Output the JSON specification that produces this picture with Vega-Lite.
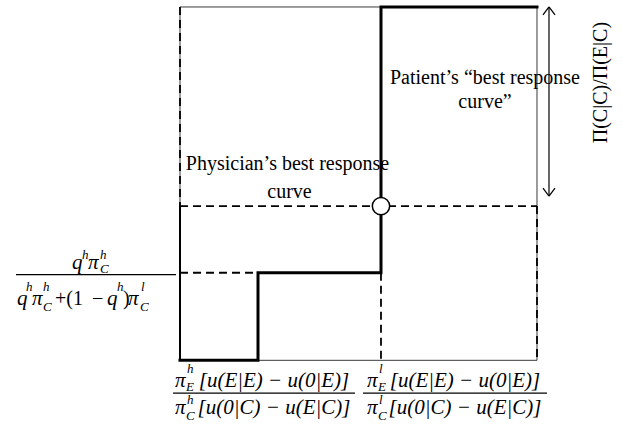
{
  "$schema": "https://vega.github.io/schema/vega-lite/v6.json",
  "width": 622,
  "height": 427,
  "padding": 0,
  "autosize": {"type": "fit", "contains": "padding"},
  "background": "white",
  "config": {"view": {"stroke": null}},
  "datasets": {
    "segs": [
      {"x": 0, "y": 1, "x2": 0.563, "y2": 1, "k": "thin"},
      {"x": 1, "y": 1, "x2": 1, "y2": 0, "k": "thin"},
      {"x": 0.2185, "y": 0, "x2": 1, "y2": 0, "k": "thin"},
      {"x": 0, "y": 1, "x2": 0, "y2": 0.4366, "k": "thin"},
      {"x": 0, "y": 0.4366, "x2": 0, "y2": 0, "k": "mid"},
      {"x": 0, "y": 1, "x2": 0, "y2": 0.4366, "k": "dash"},
      {"x": 1, "y": 0.4366, "x2": 1, "y2": 0, "k": "dash"},
      {"x": 0, "y": 0.4366, "x2": 1, "y2": 0.4366, "k": "dash"},
      {"x": 0, "y": 0.2479, "x2": 0.2185, "y2": 0.2479, "k": "dash"},
      {"x": 0.563, "y": 0.2479, "x2": 0.563, "y2": 0, "k": "dash"},
      {"x": 1.0336, "y": 1, "x2": 1.0336, "y2": 0.4648, "k": "arrow"},
      {"x": 1.0336, "y": 1, "x2": 1.0168, "y2": 0.9775, "k": "arrow"},
      {"x": 1.0336, "y": 1, "x2": 1.0504, "y2": 0.9775, "k": "arrow"},
      {"x": 1.0336, "y": 0.4648, "x2": 1.0168, "y2": 0.4873, "k": "arrow"},
      {"x": 1.0336, "y": 0.4648, "x2": 1.0504, "y2": 0.4873, "k": "arrow"},
      {"x": -0.4594, "y": 0.2423, "x2": -0.0112, "y2": 0.2423, "k": "arrow"},
      {"x": -0.0196, "y": -0.093, "x2": 0.4902, "y2": -0.093, "k": "arrow"},
      {"x": 0.5126, "y": -0.093, "x2": 1.028, "y2": -0.093, "k": "arrow"}
    ],
    "thick": [
      {"x": 0, "y": 0, "o": 1},
      {"x": 0.2185, "y": 0, "o": 2},
      {"x": 0.2185, "y": 0.2479, "o": 3},
      {"x": 0.563, "y": 0.2479, "o": 4},
      {"x": 0.563, "y": 1, "o": 5},
      {"x": 1, "y": 1, "o": 6}
    ],
    "pt": [{"x": 0.563, "y": 0.4366}],
    "txt": [
      {"x": -0.3025, "y": 0.2592, "t": "q", "k": "m"},
      {"x": -0.2745, "y": 0.2873, "t": "h", "k": "sup"},
      {"x": -0.2577, "y": 0.2592, "t": "π", "k": "m"},
      {"x": -0.2241, "y": 0.2873, "t": "h", "k": "sup"},
      {"x": -0.2241, "y": 0.2479, "t": "C", "k": "sub"},
      {"x": -0.4566, "y": 0.1577, "t": "q", "k": "m"},
      {"x": -0.4314, "y": 0.1972, "t": "h", "k": "sup"},
      {"x": -0.4146, "y": 0.1577, "t": "π", "k": "m"},
      {"x": -0.3838, "y": 0.1972, "t": "h", "k": "sup"},
      {"x": -0.3838, "y": 0.1408, "t": "C", "k": "sub"},
      {"x": -0.3501, "y": 0.1577, "t": "+(1", "k": "mu"},
      {"x": -0.2465, "y": 0.1577, "t": "−", "k": "mu"},
      {"x": -0.2045, "y": 0.1577, "t": "q", "k": "m"},
      {"x": -0.1765, "y": 0.1972, "t": "h", "k": "sup"},
      {"x": -0.1597, "y": 0.1577, "t": ")", "k": "mu"},
      {"x": -0.1457, "y": 0.1577, "t": "π", "k": "m"},
      {"x": -0.1092, "y": 0.1972, "t": "l", "k": "sup"},
      {"x": -0.112, "y": 0.1408, "t": "C", "k": "sub"},
      {"x": -0.014, "y": -0.0761, "t": "π", "k": "m"},
      {"x": 0.0196, "y": -0.0366, "t": "h", "k": "sup"},
      {"x": 0.0168, "y": -0.0873, "t": "E", "k": "sub"},
      {"x": 0.2633, "y": -0.0761, "t": "[u(E|E) − u(0|E)]", "k": "mc"},
      {"x": -0.014, "y": -0.1521, "t": "π", "k": "m"},
      {"x": 0.0196, "y": -0.1239, "t": "h", "k": "sup"},
      {"x": 0.0168, "y": -0.169, "t": "C", "k": "sub"},
      {"x": 0.2633, "y": -0.1521, "t": "[u(0|C) − u(E|C)]", "k": "mc"},
      {"x": 0.5238, "y": -0.0761, "t": "π", "k": "m"},
      {"x": 0.5574, "y": -0.0366, "t": "l", "k": "sup"},
      {"x": 0.5546, "y": -0.0873, "t": "E", "k": "sub"},
      {"x": 0.7983, "y": -0.0761, "t": "[u(E|E) − u(0|E)]", "k": "mc"},
      {"x": 0.5238, "y": -0.1521, "t": "π", "k": "m"},
      {"x": 0.5574, "y": -0.1239, "t": "l", "k": "sup"},
      {"x": 0.5546, "y": -0.169, "t": "C", "k": "sub"},
      {"x": 0.7983, "y": -0.1521, "t": "[u(0|C) − u(E|C)]", "k": "mc"},
      {"x": 0.3011, "y": 0.538, "t": "Physician’s best response", "k": "lbl"},
      {"x": 0.3067, "y": 0.4594, "t": "curve", "k": "lbl"},
      {"x": 0.8543, "y": 0.7831, "t": "Patient’s “best response", "k": "lbl"},
      {"x": 0.8543, "y": 0.7127, "t": "curve”", "k": "lbl"},
      {"x": 1.1793, "y": 0.7859, "t": "Π(C|C)/Π(E|C)", "k": "rot"}
    ]
  },
  "encoding": {
    "x": {"field": "x", "type": "quantitative", "scale": {"domain": [-0.5042, 1.2381], "nice": false, "zero": false}, "axis": null},
    "y": {"field": "y", "type": "quantitative", "scale": {"domain": [-0.1887, 1.01408], "nice": false, "zero": false}, "axis": null}
  },
  "layer": [
    {
      "data": {"name": "segs"},
      "transform": [{"filter": "datum.k === 'thin'"}],
      "mark": {"type": "rule", "strokeWidth": 1, "color": "#3a3a3a"},
      "encoding": {"x2": {"field": "x2"}, "y2": {"field": "y2"}}
    },
    {
      "data": {"name": "segs"},
      "transform": [{"filter": "datum.k === 'mid'"}],
      "mark": {"type": "rule", "strokeWidth": 2, "color": "#000000"},
      "encoding": {"x2": {"field": "x2"}, "y2": {"field": "y2"}}
    },
    {
      "data": {"name": "segs"},
      "transform": [{"filter": "datum.k === 'dash'"}],
      "mark": {"type": "rule", "strokeWidth": 1.8, "color": "#000000", "strokeDash": [8, 5]},
      "encoding": {"x2": {"field": "x2"}, "y2": {"field": "y2"}}
    },
    {
      "data": {"name": "segs"},
      "transform": [{"filter": "datum.k === 'arrow'"}],
      "mark": {"type": "rule", "strokeWidth": 1.2, "color": "#000000"},
      "encoding": {"x2": {"field": "x2"}, "y2": {"field": "y2"}}
    },
    {
      "data": {"name": "thick"},
      "mark": {"type": "line", "strokeWidth": 3, "color": "#000000", "strokeJoin": "miter", "strokeCap": "square"},
      "encoding": {"order": {"field": "o", "type": "quantitative"}}
    },
    {
      "data": {"name": "pt"},
      "mark": {"type": "point", "shape": "circle", "size": 300, "filled": true, "fill": "white", "stroke": "black", "strokeWidth": 1.5, "opacity": 1}
    },
    {
      "data": {"name": "txt"},
      "transform": [{"filter": "datum.k === 'm'"}],
      "mark": {"type": "text", "align": "left", "baseline": "alphabetic", "font": "Liberation Serif", "fontStyle": "italic", "fontSize": 21, "color": "black"},
      "encoding": {"text": {"field": "t"}}
    },
    {
      "data": {"name": "txt"},
      "transform": [{"filter": "datum.k === 'mu'"}],
      "mark": {"type": "text", "align": "left", "baseline": "alphabetic", "font": "Liberation Serif", "fontSize": 20, "color": "black"},
      "encoding": {"text": {"field": "t"}}
    },
    {
      "data": {"name": "txt"},
      "transform": [{"filter": "datum.k === 'mc'"}],
      "mark": {"type": "text", "align": "center", "baseline": "alphabetic", "font": "Liberation Serif", "fontStyle": "italic", "fontSize": 21, "color": "black"},
      "encoding": {"text": {"field": "t"}}
    },
    {
      "data": {"name": "txt"},
      "transform": [{"filter": "datum.k === 'sup' || datum.k === 'sub'"}],
      "mark": {"type": "text", "align": "left", "baseline": "alphabetic", "font": "Liberation Serif", "fontStyle": "italic", "fontSize": 13, "color": "black"},
      "encoding": {"text": {"field": "t"}}
    },
    {
      "data": {"name": "txt"},
      "transform": [{"filter": "datum.k === 'lbl'"}],
      "mark": {"type": "text", "align": "center", "baseline": "alphabetic", "font": "Liberation Serif", "fontSize": 20, "color": "black"},
      "encoding": {"text": {"field": "t"}}
    },
    {
      "data": {"name": "txt"},
      "transform": [{"filter": "datum.k === 'rot'"}],
      "mark": {"type": "text", "align": "center", "baseline": "middle", "angle": 270, "font": "Liberation Serif", "fontSize": 20, "color": "black"},
      "encoding": {"text": {"field": "t"}}
    }
  ]
}
